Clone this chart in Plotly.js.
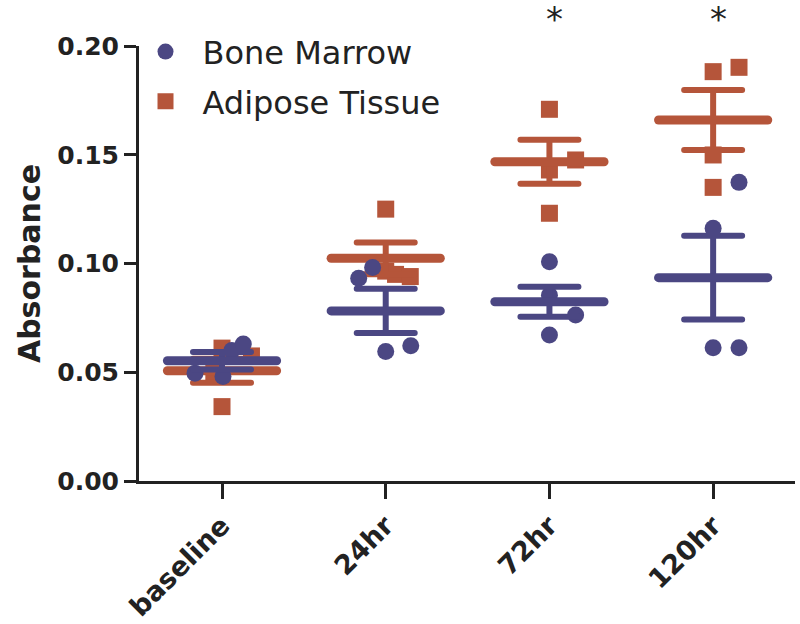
<!DOCTYPE html>
<html>
<head>
<meta charset="utf-8">
<script src="https://cdn.plot.ly/plotly-3.0.1.min.js"></script>
<style>
html,body{margin:0;padding:0;background:#fff;}
#chart{width:800px;height:624px;}
.js-plotly-plot .errorbar path,
.js-plotly-plot .meanline .point{stroke-linecap:round;}
</style>
</head>
<body>
<div id="chart"></div>
<script>
// categories (x tick labels)
const categories = ['baseline', '24hr', '72hr', '120hr'];

// Bone Marrow individual values (4 per time point)
const bmGroup  = [0,0,0,0, 1,1,1,1, 2,2,2,2, 3,3,3,3];
const bmValues = [0.0495,0.0480,0.0600,0.0630, 0.0982,0.0932,0.0595,0.0622, 0.1008,0.0854,0.0763,0.0671, 0.1373,0.1162,0.0613,0.0613];
const bmJitter = [-0.165,0.006,0.06,0.13, -0.08,-0.165,0,0.153, 0,0,0.16,0, 0.158,0,0,0.158];
const bmMean   = [0.0553, 0.0782, 0.0824, 0.0935];
const bmSem    = [0.0040, 0.0102, 0.0069, 0.0193];

// Adipose Tissue individual values
const adGroup  = [0,0,0,0, 1,1,1,1, 2,2,2,2, 3,3,3,3];
const adValues = [0.0611,0.0342,0.0575,0.0500, 0.1250,0.0965,0.0950,0.0940, 0.1709,0.1476,0.1231,0.1430, 0.1882,0.1902,0.1499,0.1350];
const adJitter = [0,0,0.18,-0.05, 0,0,0.06,0.15, 0,0.16,0,0, 0,0.158,0,0];
const adMean   = [0.0507, 0.1024, 0.1468, 0.1660];
const adSem    = [0.0055, 0.0073, 0.0101, 0.0138];

// significance markers
const sigLabels = ['', '', '*', '*'];

const BLUE = '#4b4783';
const ORANGE = '#b5553a';
const FONT = 'DejaVu Sans, Arial, sans-serif';
const idx = categories.map((c, i) => i);

function pointsTrace(name, group, values, jitter, color, symbol, rank) {
  return {
    type: 'scatter', mode: 'markers', name: name,
    x: group.map((g, i) => g + jitter[i]), y: values,
    marker: {color: color, size: 17, symbol: symbol, line: {width: 0}},
    legendgroup: name, legendrank: rank, hoverinfo: 'y'
  };
}
function meanTrace(name, means, sems, color) {
  return {
    type: 'scatter', mode: 'markers', showlegend: false, legendgroup: name,
    x: idx, y: means,
    marker: {symbol: 'line-ew', size: 78, color: color, line: {color: color, width: 9}},
    error_y: {type: 'data', array: sems, visible: true, color: color, thickness: 6, width: 29},
    hoverinfo: 'y'
  };
}

const data = [
  pointsTrace('Adipose Tissue', adGroup, adValues, adJitter, ORANGE, 'square', 2),
  meanTrace('Adipose Tissue', adMean, adSem, ORANGE),
  pointsTrace('Bone Marrow', bmGroup, bmValues, bmJitter, BLUE, 'circle', 1),
  meanTrace('Bone Marrow', bmMean, bmSem, BLUE)
];

const annotations = idx.filter(i => sigLabels[i]).map(i => ({
  x: i, xref: 'x', y: 1.062, yref: 'paper', text: sigLabels[i], showarrow: false,
  xshift: 5, font: {family: FONT, size: 34, color: '#222'}, yanchor: 'middle'
}));

const layout = {
  width: 800, height: 624,
  margin: {l: 139, r: 5, t: 46, b: 143},
  paper_bgcolor: '#fff', plot_bgcolor: '#fff',
  showlegend: true,
  legend: {
    x: -0.016, xanchor: 'left', y: 1.05, yanchor: 'top',
    traceorder: 'grouped', tracegroupgap: 5,
    font: {family: FONT, size: 32, color: '#222'},
    bgcolor: 'rgba(0,0,0,0)', itemwidth: 64
  },
  xaxis: {
    range: [-0.507, 3.50], tickmode: 'array', tickvals: idx, ticktext: categories,
    tickangle: -45, ticks: 'outside', ticklen: 15, tickwidth: 3, tickcolor: '#222',
    showline: true, linewidth: 3, linecolor: '#222', showgrid: false, zeroline: false,
    tickfont: {family: FONT, size: 27, color: '#222', weight: 'bold'}
  },
  yaxis: {
    range: [0, 0.2], dtick: 0.05, tick0: 0, tickformat: '.2f',
    ticks: 'outside', ticklen: 12, tickwidth: 3, tickcolor: '#222',
    showline: true, linewidth: 3, linecolor: '#222', showgrid: false, zeroline: false,
    tickfont: {family: FONT, size: 25, color: '#222', weight: 'bold'},
    title: {text: 'Absorbance', standoff: 8, font: {family: FONT, size: 30, color: '#222', weight: 'bold'}}
  },
  annotations: annotations
};

Plotly.newPlot('chart', data, layout, {displayModeBar: false, staticPlot: true}).then(gd => {
  gd.querySelectorAll('.scatterlayer .trace').forEach((t, i) => { if (i % 2 === 1) t.classList.add('meanline'); });
});
</script>
</body>
</html>
